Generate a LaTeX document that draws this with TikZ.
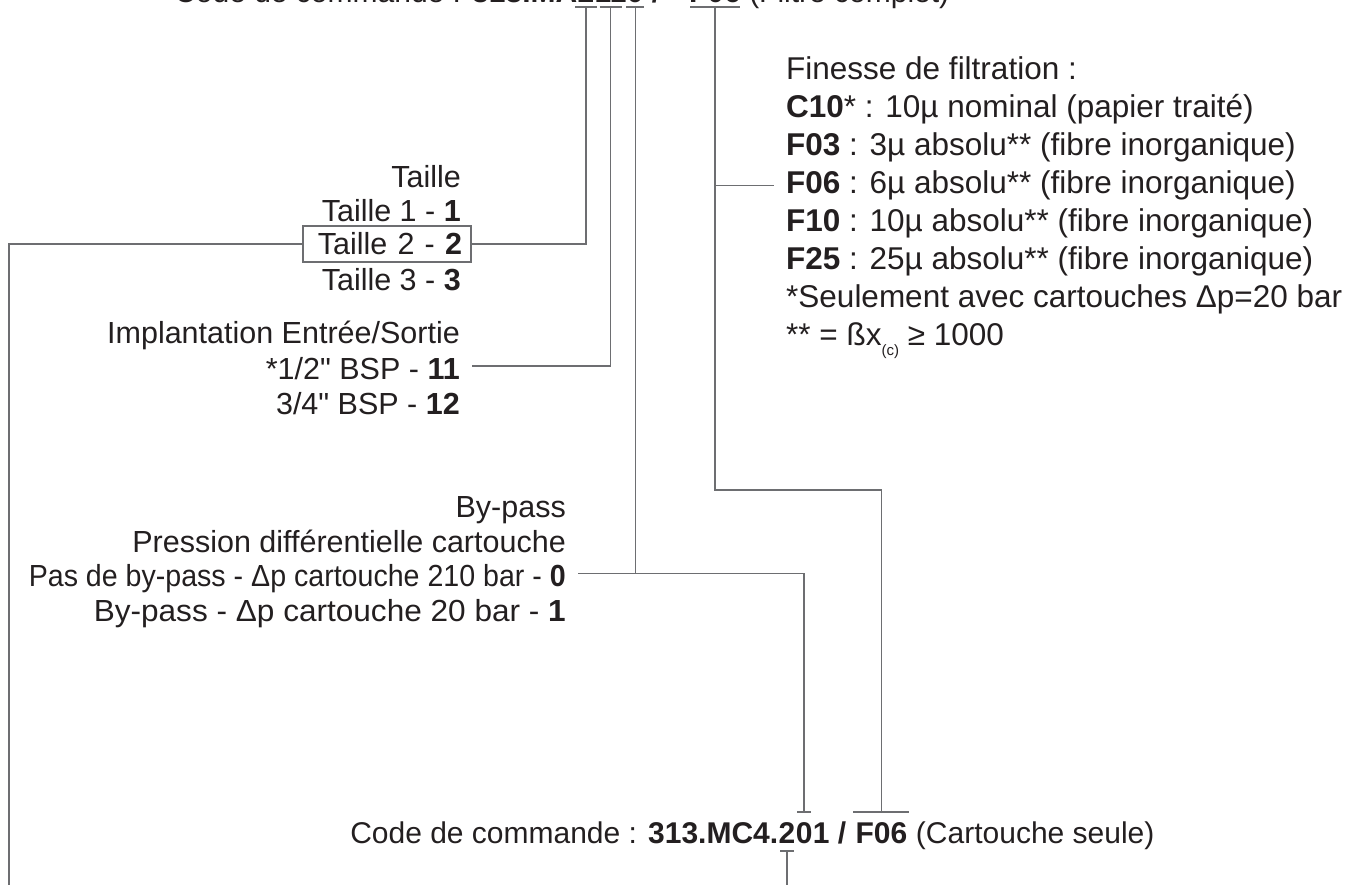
\documentclass[tikz,border=0pt]{standalone}
\usepackage{fontspec}
\setmainfont{Liberation Sans}[Ligatures=TeXOff]
\usepackage{graphicx}
\usetikzlibrary{calc}
\definecolor{txt}{HTML}{231F20}
\definecolor{ln}{HTML}{6D6E71}
\tikzset{
  lft/.style={inner sep=0pt, anchor=base east, text=txt, font=\fontsize{30.5}{33}\selectfont},
  rgt/.style={inner sep=0pt, anchor=base west, text=txt, font=\fontsize{31.5}{38}\selectfont},
  code/.style={inner sep=0pt, text=txt, font=\fontsize{30}{33}\selectfont},
  conn/.style={draw=ln, line width=1.2pt},
  boxed/.style={draw=ln, line width=1.2pt, text=txt, font=\fontsize{30.5}{33}\selectfont,
    text width=150pt, align=right, inner xsep=9pt, inner ysep=0pt,
    minimum width=168pt, minimum height=36pt},
}
\begin{document}
\begin{tikzpicture}[x=1pt,y=-1pt]
\useasboundingbox (0,0) rectangle (1366,885);

% ---- top order code (cut by the top edge)
\node[code, anchor=base] (tc2) at (586,3) {\textbf{2}};
\node[code, anchor=base east] (tcA) at (tc2.base west) {Code de commande : \textbf{313.MA}};
\node[code, anchor=base west] (tc11) at (tc2.base east) {\textbf{11}};
\node[code, anchor=base west] (tc0) at (tc11.base east) {\textbf{0}};
\node[code, anchor=base west] (tcS) at ([xshift=8pt]tc0.base east) {\textbf{/}};
\node[code, anchor=base] (tcF) at (715,3) {\textbf{F06}};
\node[code, anchor=base west] (tcE) at ([xshift=8pt]tcF.base east) {(Filtre complet)};

\coordinate (b2) at ([yshift=-4pt]tc2.base);
\coordinate (b11) at ([yshift=-4pt]tc11.base);
\coordinate (b0) at ([yshift=-4pt]tc0.base);
\coordinate (bF) at ([yshift=-4pt]tcF.base);
\draw[conn] ([xshift=-11pt]b2) -- ([xshift=11pt]b2);
\draw[conn] ([xshift=-11pt]b11) -- ([xshift=11pt]b11);
\draw[conn] ([xshift=-9pt]b0) -- ([xshift=9pt]b0);
\draw[conn] ([xshift=-25pt]bF) -- ([xshift=25pt]bF);

% ---- Taille
\node[lft] (ta0) at (461,188) {Taille};
\node[lft] (ta1) at (461,222) {Taille 1 - \textbf{1}};
\node[boxed] (ta2) at (387,244) {Taille 2 - \textbf{2}};
\node[lft] (ta3) at (461,290.5) {Taille 3 - \textbf{3}};

% ---- Implantation
\node[lft] (im0) at (460,343.5) {Implantation Entrée/Sortie};
\node[lft] (im1) at (460,379) {*1/2" BSP - \textbf{11}};
\node[lft] (im2) at (460,414.5) {3/4" BSP - \textbf{12}};

% ---- By-pass
\node[lft] (bp0) at (566,517) {By-pass};
\node[lft] (bp1) at (566,552) {Pression différentielle cartouche};
\node[lft] (bp2) at (566,586) {\scalebox{0.937}[1]{Pas de by-pass - Δp cartouche 210 bar - \textbf{0}}};
\node[lft] (bp3) at (566,621) {\scalebox{1.035}[1]{By-pass - Δp cartouche 20 bar - \textbf{1}}};

% ---- Finesse
\node[rgt] (fi0) at (786,80) {Finesse de filtration :};
\node[rgt] (fi1) at (786,118) {\textbf{C10}* : 10µ nominal (papier traité)};
\node[rgt] (fi2) at (786,156) {\textbf{F03} : 3µ absolu** (fibre inorganique)};
\node[rgt] (fi3) at (786,194) {\textbf{F06} : 6µ absolu** (fibre inorganique)};
\node[rgt] (fi4) at (786,232) {\textbf{F10} : 10µ absolu** (fibre inorganique)};
\node[rgt] (fi5) at (786,270) {\textbf{F25} : 25µ absolu** (fibre inorganique)};
\node[rgt] (fi6) at (786,308) {*Seulement avec cartouches Δp=20 bar};
\node[rgt] (fi7) at (786,346) {** = ßx\raisebox{-0.3em}{\fontsize{15}{15}\selectfont(c)} ≥ 1000};

% ---- bottom order code
\node[code, anchor=base] (bc2) at (787,843) {\textbf{2}};
\node[code, anchor=base east] (bcA) at (bc2.base west) {Code de commande : \textbf{313.MC4.}};
\node[code, anchor=base west] (bc0) at (bc2.base east) {\textbf{0}};
\node[code, anchor=base west] (bcR) at (bc0.base east) {\textbf{1~/}};
\node[code, anchor=base west] (bcF) at ([xshift=9pt]bcR.base east) {\textbf{F06}};
\node[code, anchor=base west] (bcE) at ([xshift=8.3pt]bcF.base east) {(Cartouche seule)};

\coordinate (a0) at ([yshift=31pt]bc0.base);
\coordinate (aF) at ([yshift=31pt]bcF.base);
\coordinate (u2) at ([yshift=-8pt]bc2.base);
\draw[conn] ([xshift=-7pt]a0) -- ([xshift=7pt]a0);
\draw[conn] ([xshift=-28pt]aF) -- ([xshift=28pt]aF);
\draw[conn] ([xshift=-7pt]u2) -- ([xshift=7pt]u2);

\coordinate (lb) at (9,885);

% ---- connectors
\draw[conn] (b2) |- (ta2.east);
\draw[conn] (ta2.west) -| (lb);
\draw[conn] (b11) |- ([xshift=12pt,yshift=13pt]im1.base east);
\coordinate (bpL) at ([xshift=12pt,yshift=12.7pt]bp2.base east);
\draw[conn] (b0) -- (b0 |- bpL);
\draw[conn] (bpL) -| (a0);
\draw[conn] (bF |- fi3.west) -- ([xshift=-12pt]fi3.west);
\draw[conn] (bF) -- ++(0,483) -| (aF);
\draw[conn] (u2) -- (u2 |- lb);
\end{tikzpicture}
\end{document}
